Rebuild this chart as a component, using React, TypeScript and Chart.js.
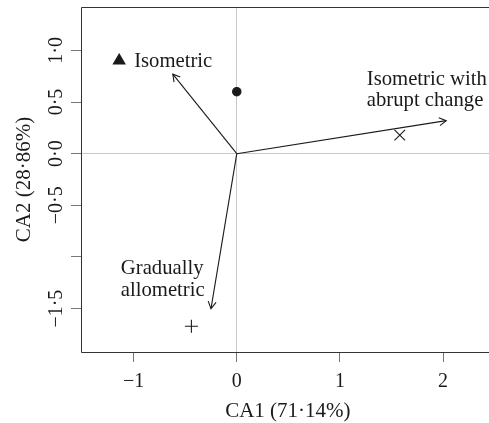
import React, { useEffect, useRef } from "react";
import { Chart, registerables } from "chart.js";
Chart.register(...registerables);

// ---- data ----
const pointNames = ["Isometric", "Isometric with abrupt change", "Gradually allometric", "Centre"];
const pointX = [-1.14, 1.58, -0.44, 0.0];
const pointY = [0.9, 0.18, -1.67, 0.6];
const arrowX = [-0.62, 2.03, -0.25];
const arrowY = [0.77, 0.32, -1.5];
const arrowLabels = [["Isometric"], ["Isometric with", "abrupt change"], ["Gradually", "allometric"]];
const labelX = [-0.995, 1.26, -1.124];
const labelY = [0.835, 0.668, -1.166];
const xTicks = [-1, 0, 1, 2];
const xTickLabels = ["−1", "0", "1", "2"];
const yTicks = [-1.5, -1, -0.5, 0, 0.5, 1];
const yTickLabels = ["−1·5", "", "−0·5", "0·0", "0·5", "1·0"];
const xTitle = "CA1 (71·14%)";
const yTitle = "CA2 (28·86%)";

const FONT = '"Liberation Serif", "Times New Roman", serif';
const INK = "#1a1a1a";

export default function App() {
  const ref = useRef<HTMLCanvasElement>(null);
  useEffect(() => {
    if (!ref.current) return;
    const styles = ["triangle", "crossRot", "cross", "circle"];
    const radii = [6.7, 7.5, 6.5, 4.2];

    const pointSets = pointX.map((x, i) => ({
      label: pointNames[i],
      data: [{ x, y: pointY[i] }],
      pointStyle: styles[i],
      pointRadius: radii[i],
      pointBackgroundColor: INK,
      pointBorderColor: INK,
      pointBorderWidth: 1.1,
      showLine: false,
    }));
    const arrowSets = arrowX.map((x, i) => ({
      label: "arrow" + i,
      data: [{ x: 0, y: 0 }, { x, y: arrowY[i] }],
      showLine: true,
      borderColor: INK,
      borderWidth: 1.1,
      pointRadius: 0,
    }));

    const overlay = {
      id: "overlay",
      afterDatasetsDraw(chart: any) {
        const ctx = chart.ctx;
        const xs = chart.scales.x;
        const ys = chart.scales.y;
        const { left, right, top, bottom } = chart.chartArea;
        ctx.save();
        ctx.strokeStyle = "#333";
        ctx.lineWidth = 1;
        ctx.beginPath();
        ctx.moveTo(right, top + 0.5);
        ctx.lineTo(left + 0.5, top + 0.5);
        ctx.lineTo(left + 0.5, bottom + 0.5);
        ctx.lineTo(right, bottom + 0.5);
        ctx.stroke();
        const ox = xs.getPixelForValue(0);
        const oy = ys.getPixelForValue(0);
        ctx.strokeStyle = INK;
        ctx.lineWidth = 1.1;
        arrowX.forEach((ax, i) => {
          const tx = xs.getPixelForValue(ax);
          const ty = ys.getPixelForValue(arrowY[i]);
          const ang = Math.atan2(ty - oy, tx - ox);
          const len = 8;
          const sp = Math.PI / 6;
          ctx.beginPath();
          ctx.moveTo(tx - len * Math.cos(ang - sp), ty - len * Math.sin(ang - sp));
          ctx.lineTo(tx, ty);
          ctx.lineTo(tx - len * Math.cos(ang + sp), ty - len * Math.sin(ang + sp));
          ctx.stroke();
        });
        ctx.fillStyle = INK;
        ctx.font = "20.7px " + FONT;
        ctx.textAlign = "left";
        ctx.textBaseline = "alphabetic";
        arrowLabels.forEach((lines, i) => {
          const px = xs.getPixelForValue(labelX[i]);
          const py = ys.getPixelForValue(labelY[i]);
          lines.forEach((t, j) => ctx.fillText(t, px, py + j * 21.8));
        });
        ctx.restore();
      },
    };

    const chart = new Chart(ref.current, {
      type: "scatter",
      data: { datasets: [...arrowSets, ...pointSets] as any },
      options: {
        animation: false,
        responsive: false,
        devicePixelRatio: 1,
        layout: { autoPadding: false, padding: { top: 7, right: 5.3, left: 0, bottom: 0 } },
        plugins: { legend: { display: false }, tooltip: { enabled: false } },
        scales: {
          x: {
            type: "linear",
            min: -1.51,
            max: 2.5,
            afterBuildTicks: (s: any) => {
              s.ticks = xTicks.map((v) => ({ value: v }));
            },
            afterFit: (s: any) => {
              s.height = 71;
              s.paddingLeft = 0;
              s.paddingRight = 0;
            },
            border: { display: false },
            grid: {
              color: (c: any) => (c.tick && c.tick.value === 0 ? "#c8c8c8" : "rgba(0,0,0,0)"),
              tickColor: "#777",
              tickLength: 10,
              lineWidth: 1,
            },
            ticks: {
              autoSkip: false,
              maxRotation: 0,
              minRotation: 0,
              padding: 8,
              color: INK,
              font: { family: FONT, size: 20 },
              callback: (v: any) => xTickLabels[xTicks.indexOf(Number(v))] ?? "",
            },
            title: {
              display: true,
              text: xTitle,
              color: INK,
              font: { family: FONT, size: 21 },
              padding: { top: 0, bottom: -1 },
            },
          },
          y: {
            type: "linear",
            min: -1.92,
            max: 1.42,
            afterBuildTicks: (s: any) => {
              s.ticks = yTicks.map((v) => ({ value: v }));
            },
            afterFit: (s: any) => {
              s.width = 81;
              s.paddingTop = 0;
              s.paddingBottom = 0;
            },
            border: { display: false },
            grid: {
              color: (c: any) => (c.tick && c.tick.value === 0 ? "#c8c8c8" : "rgba(0,0,0,0)"),
              tickColor: "#777",
              tickLength: 10,
              lineWidth: 1,
            },
            ticks: {
              autoSkip: false,
              minRotation: 90,
              maxRotation: 90,
              crossAlign: "center",
              padding: -5,
              color: INK,
              font: { family: FONT, size: 20 },
              callback: (v: any) => yTickLabels[yTicks.indexOf(Number(v))] ?? "",
            },
            title: {
              display: true,
              text: yTitle,
              color: INK,
              font: { family: FONT, size: 21 },
              padding: { top: 12, bottom: 0 },
            },
          },
        },
      } as any,
      plugins: [overlay],
    });
    return () => chart.destroy();
  }, []);

  return (
    <div
      style={{
        position: "fixed",
        left: 0,
        top: 0,
        width: 489,
        height: 423,
        overflow: "hidden",
        background: "#fff",
      }}
    >
      <canvas ref={ref} width={500} height={423} style={{ width: 500, height: 423, display: "block" }} />
    </div>
  );
}
